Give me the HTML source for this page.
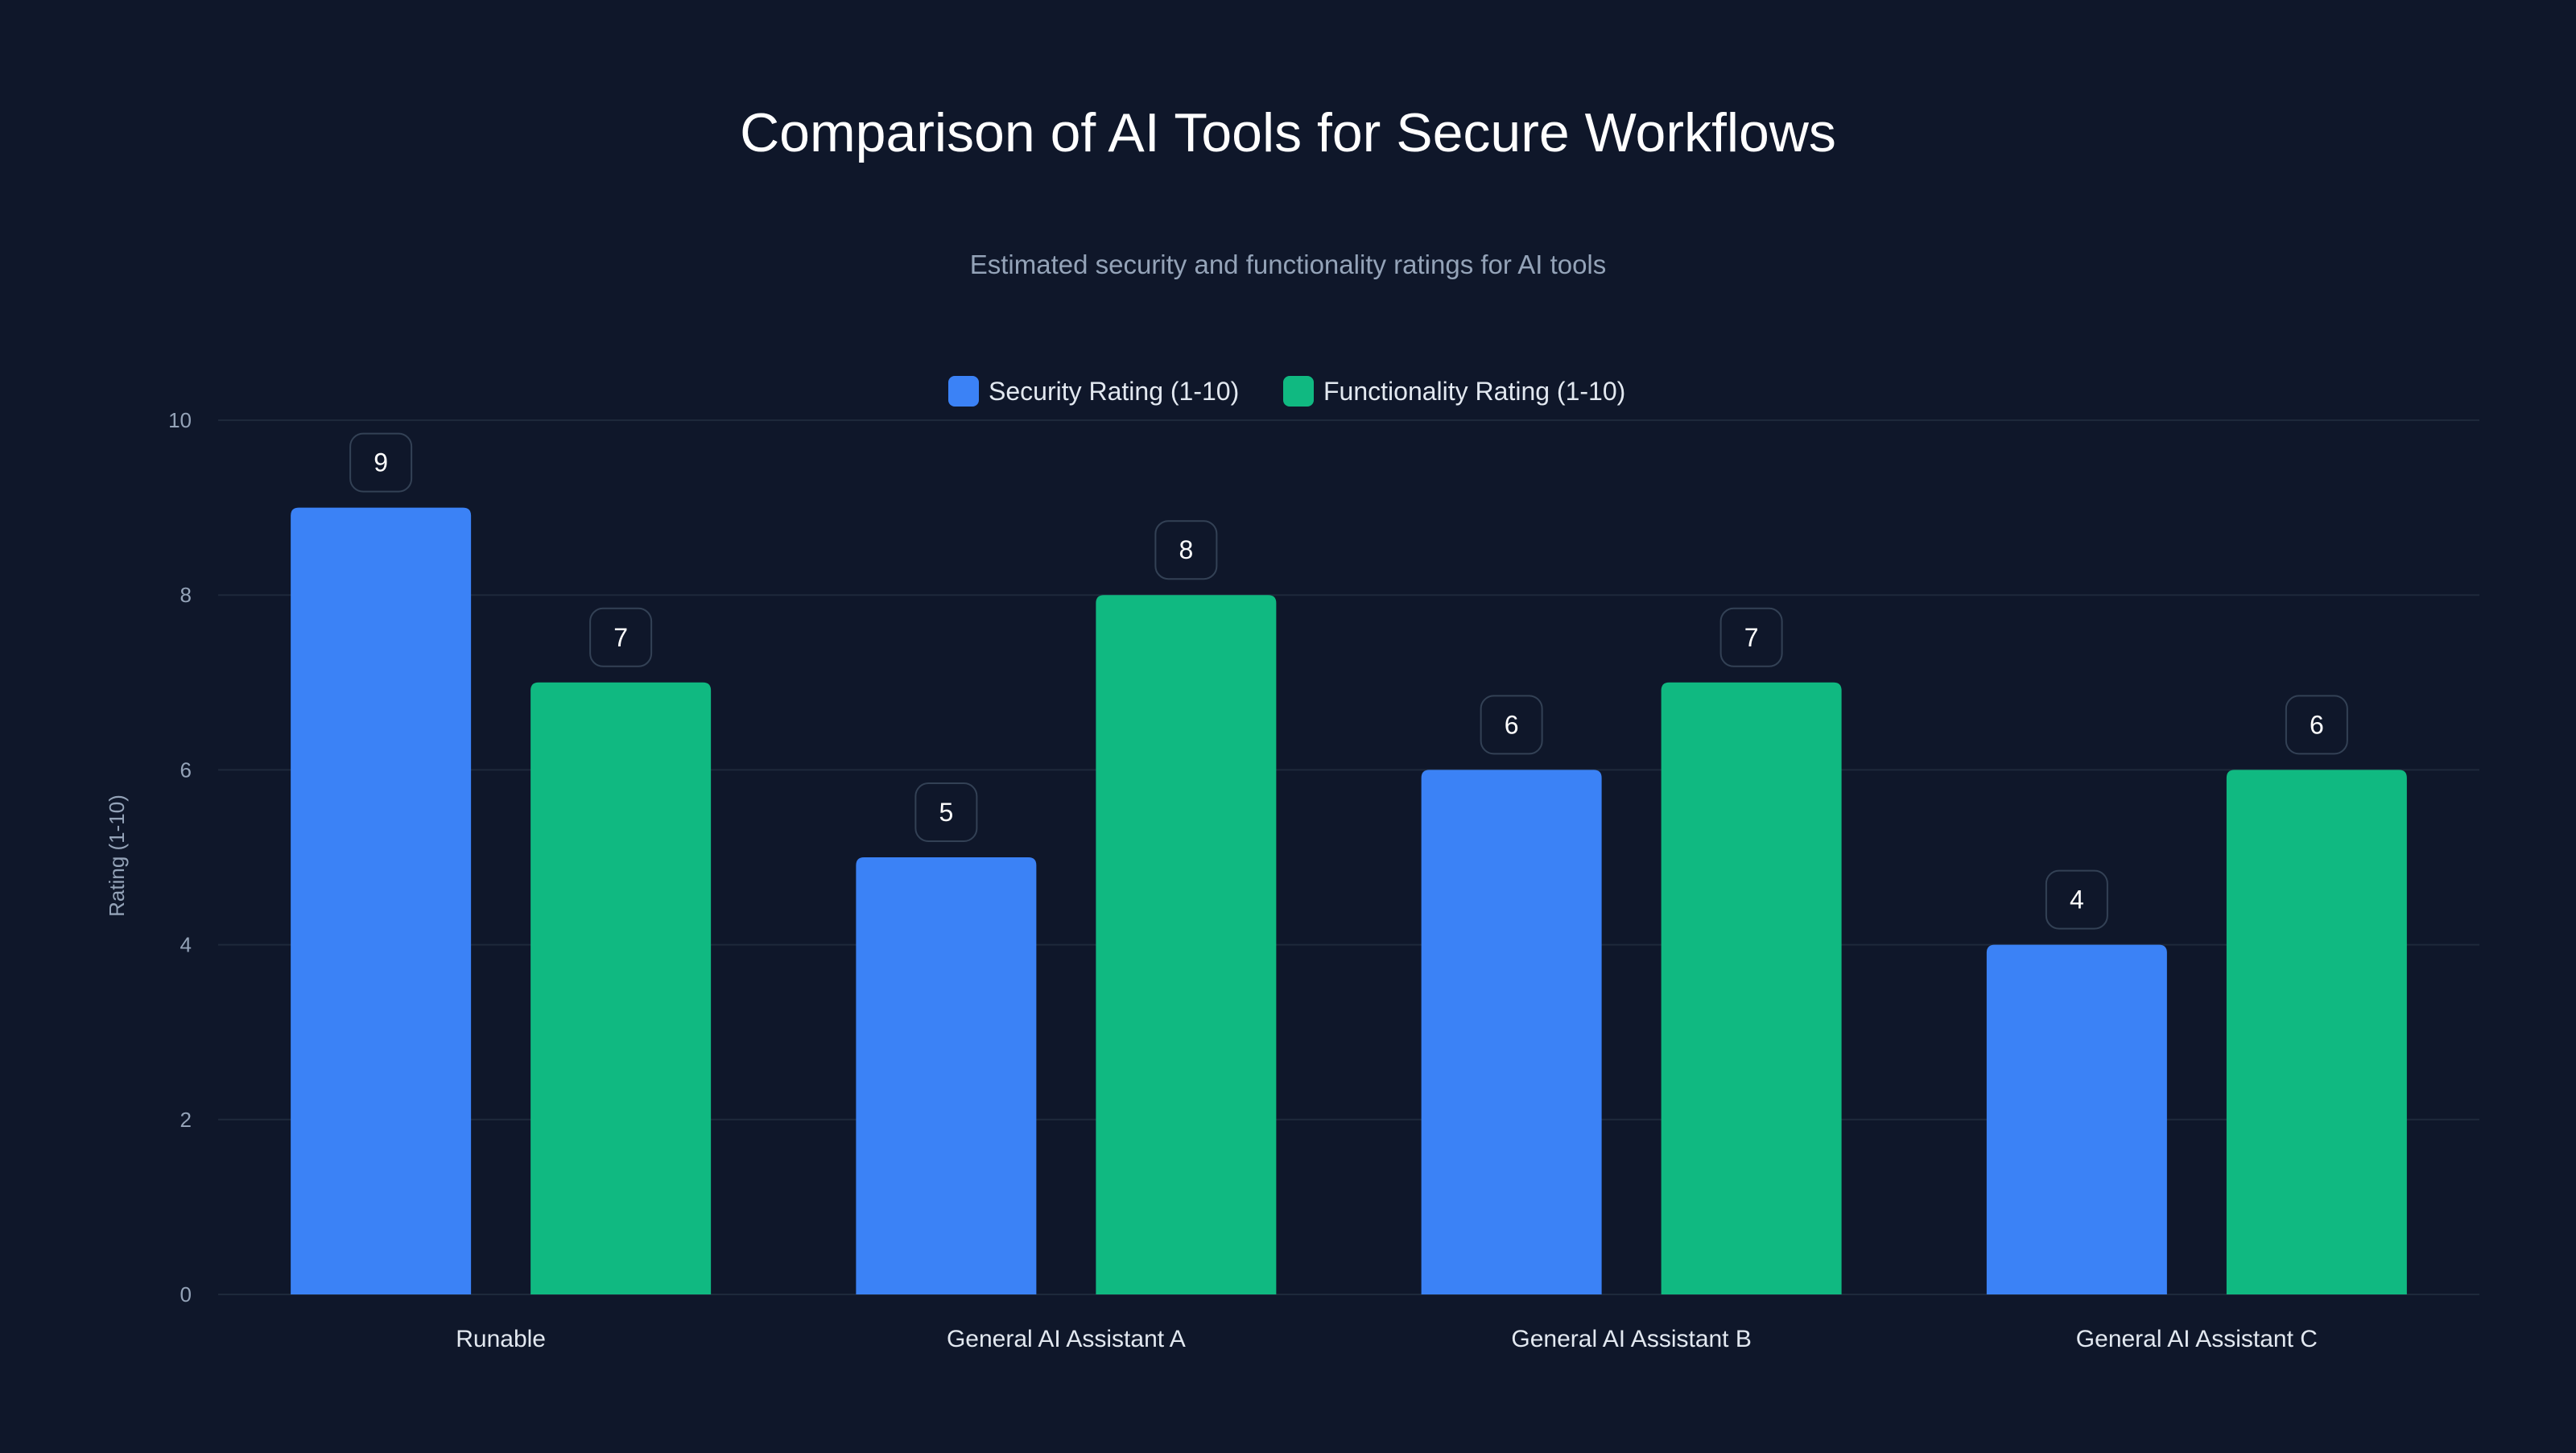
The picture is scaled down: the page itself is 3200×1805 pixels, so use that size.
<!DOCTYPE html>
<html><head><meta charset="utf-8">
<style>
html,body{margin:0;padding:0;background:#0f172a;}
body{width:3200px;height:1800px;overflow:hidden;font-family:"Liberation Sans",sans-serif;}
</style></head>
<body>
<svg id="chart" width="3200" height="1800" xmlns="http://www.w3.org/2000/svg">
<rect width="3200" height="1800" fill="#0f172a"/>
<text x="1600" y="188" text-anchor="middle" fill="#ffffff" font-size="68">Comparison of AI Tools for Secure Workflows</text>
<text x="1600" y="340" text-anchor="middle" fill="#94a3b8" font-size="33">Estimated security and functionality ratings for AI tools</text>
<g>
<g>
<rect x="1178" y="467" width="38" height="38" rx="8" fill="#3b82f6"/>
<text x="1228" y="497" fill="#e2e8f0" font-size="32">Security Rating (1-10)</text>
</g>
<g>
<rect x="1594" y="467" width="38" height="38" rx="8" fill="#10b981"/>
<text x="1644" y="497" fill="#e2e8f0" font-size="32">Functionality Rating (1-10)</text>
</g>
</g>
<text transform="translate(154,1063) rotate(-90)" text-anchor="middle" fill="#94a3b8" font-size="26">Rating (1-10)</text>
<g id="grid"></g>
<g id="bars"></g>
</svg>
<script>
const categories = ["Runable","General AI Assistant A","General AI Assistant B","General AI Assistant C"];
const securityValues = [9,5,6,4];
const functionalityValues = [7,8,7,6];
const yTicks = [0,2,4,6,8,10];

const gridG = document.getElementById('grid');
const barsG = document.getElementById('bars');
const NS = 'http://www.w3.org/2000/svg';
const plotLeft = 271, plotRight = 3080, plotTop = 522, plotBottom = 1608, yMax = 10;
const yScale = v => plotBottom - (v / yMax) * (plotBottom - plotTop);
const groupW = (plotRight - plotLeft) / categories.length;
const xCenter = i => plotLeft + groupW * (i + 0.5);
const barW = 224, barGap = 74;

function mk(tag, attrs){const e=document.createElementNS(NS,tag);for(const k in attrs)e.setAttribute(k,attrs[k]);return e;}

yTicks.forEach(t=>{
  const l = mk('line',{x1:plotLeft,x2:plotRight,y1:yScale(t),y2:yScale(t),stroke:'#1e293b','stroke-width':2});
  
  
  gridG.appendChild(l);
  const tx = mk('text',{x:238,y:yScale(t)+9,'text-anchor':'end',fill:'#94a3b8','font-size':26});
  
  
  tx.textContent = t;
  gridG.appendChild(tx);
});

function drawBar(i, v, offset, color, series){
  const x = xCenter(i) + offset - barW/2;
  const yt = yScale(v);
  const r = mk('path',{d:`M${x},${plotBottom} V${yt+10} Q${x},${yt} ${x+10},${yt} H${x+barW-10} Q${x+barW},${yt} ${x+barW},${yt+10} V${plotBottom} Z`,fill:color});
  
  
  barsG.appendChild(r);
  const cx = x + barW/2, by = yt - 20 - 72;
  const box = mk('rect',{x:cx-38,y:by,width:76,height:72,rx:16,fill:'#0f172a',stroke:'#334155','stroke-width':2});
  
  
  barsG.appendChild(box);
  const t = mk('text',{x:cx,y:by+47,'text-anchor':'middle',fill:'#ffffff','font-size':32});
  
  
  t.textContent = v;
  barsG.appendChild(t);
}

categories.forEach((c,i)=>{
  drawBar(i, securityValues[i], -(barW+barGap)/2, '#3b82f6', 'security');
  drawBar(i, functionalityValues[i], (barW+barGap)/2, '#10b981', 'functionality');
  const t = mk('text',{x:xCenter(i),y:1673,'text-anchor':'middle',fill:'#e2e8f0','font-size':30});
  
  
  t.textContent = c;
  barsG.appendChild(t);
});
</script>
</body></html>
